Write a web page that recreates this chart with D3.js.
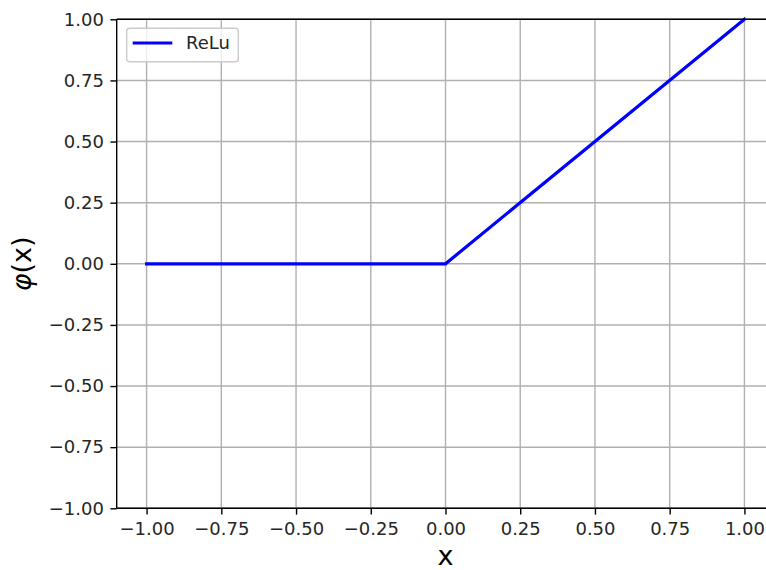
<!DOCTYPE html>
<html><head><meta charset="utf-8">
<script src="https://cdn.jsdelivr.net/npm/d3@7"></script>
<style>body{margin:0;background:#fff;} svg{display:block;}</style>
</head><body>
<script>
const xTicks = [-1.0, -0.75, -0.5, -0.25, 0.0, 0.25, 0.5, 0.75, 1.0];
const yTicks = [-1.0, -0.75, -0.5, -0.25, 0.0, 0.25, 0.5, 0.75, 1.0];
const reluX = [-1.0, 0.0, 1.0];
const reluY = [0.0, 0.0, 1.0];
const seriesName = "ReLu";

const W = 766, H = 570;
const m = {left: 116.7, top: 19.3, right: 774.3, bottom: 508.3};
const font = "DejaVu Sans, sans-serif";
const fmt = v => (v < 0 ? "\u2212" : "") + Math.abs(v).toFixed(2);

const svg = d3.select("body").append("svg").attr("width", W).attr("height", H);
const x = d3.scaleLinear().domain([-1.1, 1.1]).range([m.left, m.right]);
const y = d3.scaleLinear().domain([-1, 1]).range([m.bottom, m.top]);

// grid
const g = svg.append("g");
g.selectAll(".gx").data(xTicks).enter().append("line")
  .attr("x1", d => x(d)).attr("x2", d => x(d)).attr("y1", m.top).attr("y2", m.bottom)
  .attr("stroke", "#b0b0b0").attr("stroke-width", 1.4);
g.selectAll(".gy").data(yTicks).enter().append("line")
  .attr("x1", m.left).attr("x2", m.right).attr("y1", d => y(d)).attr("y2", d => y(d))
  .attr("stroke", "#b0b0b0").attr("stroke-width", 1.4);

// line
const pts = reluX.map((v, i) => [v, reluY[i]]);
svg.append("path").datum(pts)
  .attr("d", d3.line().x(d => x(d[0])).y(d => y(d[1])))
  .attr("fill", "none").attr("stroke", "#0000ff").attr("stroke-width", 3.2)
  .attr("stroke-linecap", "square");

// axes
const xAxis = d3.axisBottom(x).tickValues(xTicks).tickFormat(fmt).tickSize(6.3).tickPadding(8);
const yAxis = d3.axisLeft(y).tickValues(yTicks).tickFormat(fmt).tickSize(6.3).tickPadding(6.5);
const gx = svg.append("g").attr("transform", `translate(0,${m.bottom})`).call(xAxis);
const gy = svg.append("g").attr("transform", `translate(${m.left},0)`).call(yAxis);
[gx, gy].forEach(a => {
  a.selectAll("text").attr("font-family", font).attr("font-size", 18).attr("fill", "#262626");
  a.selectAll(".tick line").attr("stroke", "#000").attr("stroke-width", 1.4);
  a.select(".domain").remove();
});
// spines
svg.append("line").attr("x1", m.left).attr("x2", m.left).attr("y1", m.top).attr("y2", m.bottom)
  .attr("stroke", "#000").attr("stroke-width", 1.4);
svg.append("line").attr("x1", m.left).attr("x2", m.right).attr("y1", m.bottom).attr("y2", m.bottom)
  .attr("stroke", "#000").attr("stroke-width", 1.4);
svg.append("line").attr("x1", m.left).attr("x2", m.right).attr("y1", m.top).attr("y2", m.top)
  .attr("stroke", "#000").attr("stroke-width", 1.4);

// axis labels
svg.append("text").attr("x", x(0)).attr("y", 565).attr("text-anchor", "middle")
  .attr("font-family", font).attr("font-size", 27).attr("fill", "#000").text("x");
const yl = svg.append("text").attr("transform", `translate(31,${y(0)}) rotate(-90)`).attr("text-anchor", "middle")
  .attr("font-family", font).attr("font-size", 27).attr("fill", "#000");
yl.append("tspan").attr("font-style", "italic").text("\u03c6");
yl.append("tspan").text("(x)");

// legend
const lg = svg.append("g");
lg.append("rect").attr("x", 126.7).attr("y", 28.3).attr("width", 111.6).attr("height", 33.4).attr("rx", 3)
  .attr("fill", "#fff").attr("fill-opacity", 0.8).attr("stroke", "#cccccc").attr("stroke-width", 1.4);
lg.append("line").attr("x1", 132.7).attr("x2", 172.3).attr("y1", 43).attr("y2", 43)
  .attr("stroke", "#0000ff").attr("stroke-width", 3.2);
lg.append("text").attr("x", 186).attr("y", 49.3).attr("font-family", font).attr("font-size", 18)
  .attr("fill", "#262626").text(seriesName);
</script>
</body></html>
